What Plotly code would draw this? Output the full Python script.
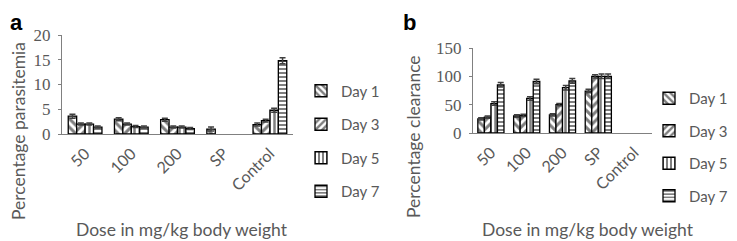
import plotly.graph_objects as go

categories = ["50", "100", "200", "SP", "Control"]
days = ["Day 1", "Day 3", "Day 5", "Day 7"]

# Panel a: percentage parasitemia
para_day1 = [3.6, 3.0, 2.9, 1.0, 1.9]
para_day3 = [2.0, 2.0, 1.4, None, 2.7]
para_day5 = [2.0, 1.5, 1.4, None, 4.8]
para_day7 = [1.4, 1.4, 1.1, None, 14.8]
para_err1 = [0.4, 0.3, 0.3, 0.4, 0.3]
para_err3 = [0.2, 0.2, 0.2, None, 0.3]
para_err5 = [0.2, 0.2, 0.2, None, 0.4]
para_err7 = [0.2, 0.2, 0.2, None, 0.6]

# Panel b: percentage clearance
clr_day1 = [25, 30, 32, 74, None]
clr_day3 = [28, 31, 50, 100, None]
clr_day5 = [52, 61, 80, 100, None]
clr_day7 = [85, 91, 92, 100, None]
clr_err1 = [2, 2, 2, 3, None]
clr_err3 = [2, 2, 2, 3, None]
clr_err5 = [3, 3, 4, 4, None]
clr_err7 = [4, 4, 4, 4, None]

patterns = ["\\", "/", "|", "-"]
pattern_sizes = [6, 6, 5, 4]

# page is offset by the body margin (8px); work in screen pixels
OFF = 8
W, H = 737 - OFF, 241 - OFF


def px(X):
    return (X - OFF) / W


def py(Y):
    return 1 - (Y - OFF) / H


fig = go.Figure()

for name, vals, errs, pat, ps in zip(days, [para_day1, para_day3, para_day5, para_day7],
                                     [para_err1, para_err3, para_err5, para_err7], patterns, pattern_sizes):
    fig.add_trace(go.Bar(
        x=categories, y=vals, name=name, xaxis="x", yaxis="y", legend="legend",
        legendgroup="a" + name,
        marker=dict(color="white", line=dict(color="black", width=1.3),
                    pattern=dict(shape=pat, fgcolor="black", bgcolor="white", size=ps, solidity=0.5)),
        error_y=dict(type="data", array=errs, color="#404040", thickness=1.5, width=3),
    ))

for name, vals, errs, pat, ps in zip(days, [clr_day1, clr_day3, clr_day5, clr_day7],
                                     [clr_err1, clr_err3, clr_err5, clr_err7], patterns, pattern_sizes):
    fig.add_trace(go.Bar(
        x=categories, y=vals, name=name, xaxis="x2", yaxis="y2", legend="legend2",
        legendgroup="b" + name,
        marker=dict(color="white", line=dict(color="black", width=1.3),
                    pattern=dict(shape=pat, fgcolor="black", bgcolor="white", size=ps, solidity=0.5)),
        error_y=dict(type="data", array=errs, color="#404040", thickness=1.5, width=3),
    ))

tickfont = dict(family="Liberation Serif", size=17, color="#595959")
xtickfont = dict(family="Lato", size=16, color="#595959")
titlefont = dict(family="Lato", size=17.5, color="#595959")
legfont = dict(family="Lato", size=15, color="#595959")

axis_common = dict(showgrid=False, zeroline=False, showline=True, linecolor="#808080",
                   linewidth=1, automargin=False)

fig.update_layout(
    width=W, height=H,
    margin=dict(l=0, r=0, t=0, b=0, autoexpand=False),
    paper_bgcolor="white", plot_bgcolor="white",
    barmode="group", bargap=0.27, bargroupgap=0,
    showlegend=True,
    xaxis=dict(domain=[px(62), px(293)], anchor="y", type="category",
               categoryorder="array", categoryarray=categories, range=[-0.5, 4.5],
               tickangle=-45, tickfont=xtickfont, ticks="", ticklabelstandoff=3, **axis_common),
    yaxis=dict(domain=[py(134), py(35)], anchor="x", range=[0, 20], dtick=5,
               tickfont=tickfont, ticks="outside", ticklen=3, tickcolor="#808080",
               ticklabelstandoff=4, **axis_common),
    xaxis2=dict(domain=[px(473), px(652)], anchor="y2", type="category",
                categoryorder="array", categoryarray=categories, range=[-0.5, 4.5],
                tickangle=-45, tickfont=xtickfont, ticks="", ticklabelstandoff=3, **axis_common),
    yaxis2=dict(domain=[py(133), py(48)], anchor="x2", range=[0, 150], dtick=50,
                tickfont=tickfont, ticks="outside", ticklen=3, tickcolor="#808080",
                ticklabelstandoff=4, **axis_common),
    legend=dict(x=px(301), y=py(141), xanchor="left", yanchor="middle",
                font=legfont, tracegroupgap=11, itemwidth=30, bgcolor="rgba(0,0,0,0)"),
    legend2=dict(x=px(649), y=py(147), xanchor="left", yanchor="middle",
                 font=legfont, tracegroupgap=10, itemwidth=30, bgcolor="rgba(0,0,0,0)"),
    annotations=[
        dict(text="<b>a</b>", x=px(8), y=1, xref="paper", yref="paper", xanchor="left", yanchor="top",
             yshift=-0, showarrow=False, font=dict(family="Liberation Sans", size=22, color="black")),
        dict(text="<b>b</b>", x=px(401), y=1, xref="paper", yref="paper", xanchor="left", yanchor="top",
             showarrow=False, font=dict(family="Liberation Sans", size=22, color="black")),
        dict(text="Dose in mg/kg body weight", x=px(182), y=py(229), xref="paper", yref="paper",
             xanchor="center", yanchor="middle", showarrow=False, font=titlefont),
        dict(text="Dose in mg/kg body weight", x=px(588), y=py(229), xref="paper", yref="paper",
             xanchor="center", yanchor="middle", showarrow=False, font=titlefont),
        dict(text="Percentage parasitemia", x=px(18), y=py(131), xref="paper", yref="paper",
             xanchor="center", yanchor="middle", textangle=-90, showarrow=False, font=titlefont),
        dict(text="Percentage clearance", x=px(413), y=py(137), xref="paper", yref="paper",
             xanchor="center", yanchor="middle", textangle=-90, showarrow=False, font=titlefont),
    ],
)

fig.write_html("out.html")
